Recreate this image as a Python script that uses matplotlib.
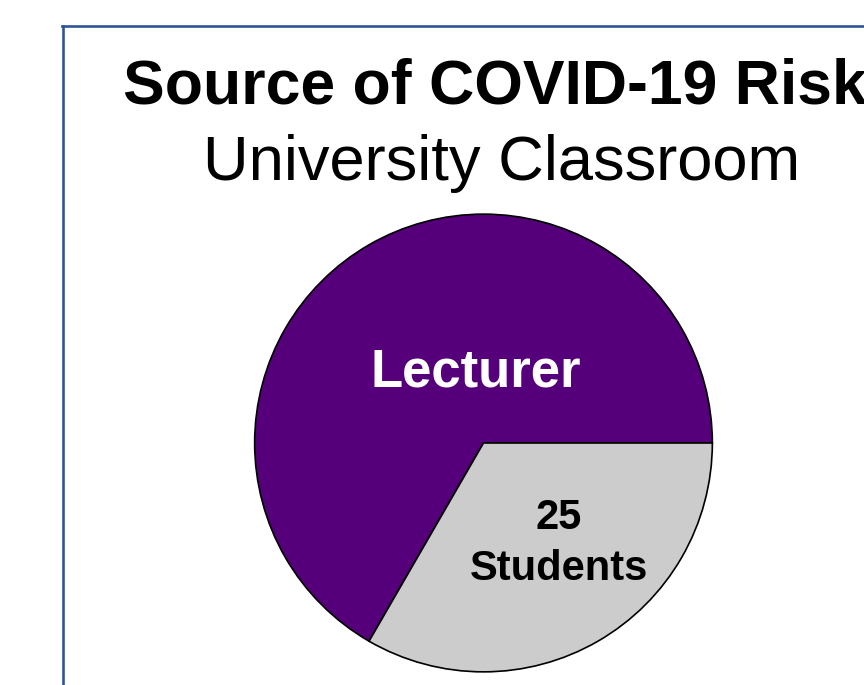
import matplotlib.pyplot as plt
from matplotlib.lines import Line2D

plt.rcParams['font.family'] = ['Liberation Sans', 'DejaVu Sans']

sources = ['Lecturer', 'Students']
risk = [50, 25]
n_students = 25
colors = ['#55007A', '#CCCCCC']

W, H = 864, 685
fig = plt.figure(figsize=(W / 100, H / 100), dpi=100)

# slide frame (runs off the right and bottom edges)
fx, fy = 62.5 / W, 1 - 25.5 / H
fig.add_artist(Line2D([fx, fx], [fy, -0.05], color='#2F5597', lw=1.9))
fig.add_artist(Line2D([fx - 0.001, 1.05], [fy, fy], color='#2F5597', lw=1.9))

fig.text(123 / W, 1 - 103 / H, 'Source of COVID-19 Risk', fontsize=45,
         fontweight='bold', ha='left', va='baseline')
fig.text(502 / W, 1 - 180 / H, 'University Classroom', fontsize=45.5,
         ha='center', va='baseline')

# pie: centre (483.5, 443) px, radius 230 px
r = 230
cx, cy = 483.5, 443
ax = fig.add_axes([(cx - r) / W, (H - cy - r) / H, 2 * r / W, 2 * r / H])
ax.pie(risk, colors=colors, startangle=0, counterclock=True,
       wedgeprops=dict(edgecolor='black', linewidth=1.2))
ax.set_xlim(-1.005, 1.005)
ax.set_ylim(-1.005, 1.005)
ax.axis('off')

ax.text(-0.033, 0.31, sources[0], color='white', fontsize=38,
        fontweight='bold', ha='center', va='center')
ax.text(0.33, -0.44, f'{n_students}\n{sources[1]}', color='black', fontsize=30,
        fontweight='bold', ha='center', va='center', linespacing=1.35)

fig.savefig('out.png', dpi=100)
